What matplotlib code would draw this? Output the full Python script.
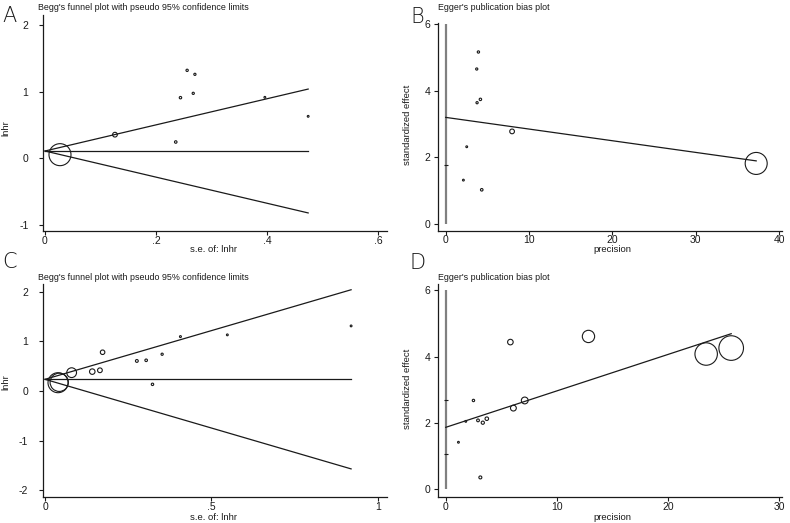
import matplotlib
matplotlib.use("Agg")
import matplotlib.pyplot as plt
import numpy as np

plt.rcParams['font.family'] = ['Liberation Sans', 'DejaVu Sans']

# ---------------- data ----------------
# Panel A: Begg's funnel plot (se, lnhr)
se_a = [0.027, 0.126, 0.2355, 0.244, 0.256, 0.267, 0.270, 0.396, 0.474]
lnhr_a = [0.055, 0.355, 0.245, 0.91, 1.32, 0.975, 1.26, 0.915, 0.63]
pooled_a = 0.11

# Panel B: Egger's plot (precision, standardized effect)
prec_b = [37.24, 7.96, 4.32, 4.16, 3.92, 3.76, 3.72, 2.52, 2.12]
z_b = [1.82, 2.78, 1.03, 3.74, 5.16, 3.64, 4.65, 2.32, 1.32]
egger_b = (3.20, -0.0350)   # intercept, slope
ci_marks_b = [1.76]

# Panel C: Begg's funnel plot
se_c = [0.039, 0.0427, 0.080, 0.142, 0.165, 0.173, 0.276, 0.304, 0.323, 0.352, 0.407, 0.548, 0.92]
lnhr_c = [0.167, 0.175, 0.369, 0.39, 0.417, 0.78, 0.605, 0.618, 0.134, 0.74, 1.095, 1.13, 1.31]
pooled_c = 0.235

# Panel D: Egger's plot
prec_d = [25.66, 23.41, 12.83, 7.10, 6.08, 5.81, 3.69, 3.33, 3.11, 2.90, 2.49, 1.80, 1.14]
z_d = [4.26, 4.08, 4.61, 2.68, 2.45, 4.44, 2.13, 2.01, 0.36, 2.08, 2.68, 2.05, 1.42]
egger_d = (1.87, 0.110)
ci_marks_d = [2.68, 1.08]

# tick labels
xt_a = [0, 0.2, 0.4, 0.6]; xtl_a = ['0', '.2', '.4', '.6']
yt_a = [-1, 0, 1, 2]; ytl_a = ['-1', '0', '1', '2']
xt_b = [0, 10, 20, 30, 40]; yt_b = [0, 2, 4, 6]
xt_c = [0, 0.5, 1]; xtl_c = ['0', '.5', '1']
yt_c = [-2, -1, 0, 1, 2]; ytl_c = ['-2', '-1', '0', '1', '2']
xt_d = [0, 10, 20, 30]; yt_d = [0, 2, 4, 6]

begg_title = "Begg's funnel plot with pseudo 95% confidence limits"
egger_title = "Egger's publication bias plot"

# ---------------- figure ----------------
W, H = 790, 523
DPI = 100
fig = plt.figure(figsize=(W / DPI, H / DPI), dpi=DPI)
fig.patch.set_facecolor('white')

INK = '#1a1a1a'


def add_ax(left, right, top, bottom):
    return fig.add_axes([left / W, 1 - bottom / H, (right - left) / W, (bottom - top) / H])


def style(ax, xlim, ylim, xt, xtl, yt, ytl, ypad):
    ax.set_xlim(*xlim)
    ax.set_ylim(*ylim)
    for s in ('top', 'right'):
        ax.spines[s].set_visible(False)
    for s in ('left', 'bottom'):
        ax.spines[s].set_color(INK)
        ax.spines[s].set_linewidth(0.9)
    ax.set_xticks(xt)
    ax.set_xticklabels(xtl)
    ax.set_yticks(yt)
    ax.set_yticklabels(ytl)
    ax.tick_params(direction='out', length=3, width=0.8, colors=INK,
                   labelsize=7.5)
    ax.tick_params(axis='x', pad=0.3)
    ax.tick_params(axis='y', pad=ypad)
    ax.patch.set_alpha(0)


def sizes(w, rmax):
    w = np.asarray(w, float)
    r = rmax * w / w.max()
    r = np.maximum(r, 0.9)
    d_pt = 2 * r * 72 / DPI
    return d_pt ** 2


def px(x, y):
    return x / W, 1 - y / H


# Panel A
axA = add_ax(43, 387, 15, 231)
style(axA, (-0.0036, 0.616), (-1.09, 2.15), xt_a, xtl_a, yt_a, ytl_a, 7.5)
sa = np.asarray(se_a)
semax = sa.max()
axA.plot([0, semax], [pooled_a, pooled_a], color=INK, lw=0.9)
axA.plot([0, semax], [pooled_a, pooled_a + 1.96 * semax], color=INK, lw=0.9)
axA.plot([0, semax], [pooled_a, pooled_a - 1.96 * semax], color=INK, lw=0.9)
axA.scatter(se_a, lnhr_a, s=sizes(1 / sa, 11), facecolors='none', edgecolors=INK, linewidths=0.8, zorder=3)

# Panel B
axB = add_ax(438.3, 781.7, 23.3, 230.5)
style(axB, (-0.89, 40.3), (-0.19, 6.02), xt_b, [str(v) for v in xt_b], yt_b, [str(v) for v in yt_b], 2.6)
axB.plot([0, 0], [0, 6], color='#808080', lw=1.6, solid_capstyle='butt', zorder=1)
axB.scatter([0] * len(ci_marks_b), ci_marks_b, marker='_', s=6, color=INK, lw=0.8, zorder=2)
pb = np.asarray(prec_b)
xs = np.array([0, pb.max()])
axB.plot(xs, egger_b[0] + egger_b[1] * xs, color=INK, lw=0.9)
axB.scatter(prec_b, z_b, s=sizes(pb, 11), facecolors='none', edgecolors=INK, linewidths=0.8, zorder=3)

# Panel C
axC = add_ax(42.7, 386.7, 283.7, 497.3)
style(axC, (-0.007, 1.027), (-2.14, 2.16), xt_c, xtl_c, yt_c, ytl_c, 7.5)
sc = np.asarray(se_c)
semax = sc.max()
axC.plot([0, semax], [pooled_c, pooled_c], color=INK, lw=0.9)
axC.plot([0, semax], [pooled_c, pooled_c + 1.96 * semax], color=INK, lw=0.9)
axC.plot([0, semax], [pooled_c, pooled_c - 1.96 * semax], color=INK, lw=0.9)
axC.scatter(se_c, lnhr_c, s=sizes(1 / sc, 10), facecolors='none', edgecolors=INK, linewidths=0.8, zorder=3)

# Panel D
axD = add_ax(438.3, 781.7, 283.7, 497)
style(axD, (-0.67, 30.2), (-0.23, 6.2), xt_d, [str(v) for v in xt_d], yt_d, [str(v) for v in yt_d], 2.6)
axD.plot([0, 0], [0, 6], color='#808080', lw=1.6, solid_capstyle='butt', zorder=1)
axD.scatter([0] * len(ci_marks_d), ci_marks_d, marker='_', s=6, color=INK, lw=0.8, zorder=2)
pd_ = np.asarray(prec_d)
xs = np.array([0, pd_.max()])
axD.plot(xs, egger_d[0] + egger_d[1] * xs, color=INK, lw=0.9)
axD.scatter(prec_d, z_d, s=sizes(pd_, 12.3), facecolors='none', edgecolors=INK, linewidths=0.8, zorder=3)

# Titles
tfs = 6.4
fig.text(*px(38, 7), begg_title, fontsize=tfs, ha='left', va='center', color=INK)
fig.text(*px(437.7, 7), egger_title, fontsize=tfs, ha='left', va='center', color=INK)
fig.text(*px(38.3, 277), begg_title, fontsize=tfs, ha='left', va='center', color=INK)
fig.text(*px(438.3, 277), egger_title, fontsize=tfs, ha='left', va='center', color=INK)

# Panel letters
lfs = 15
for (x, y, t) in [(2, 16, 'A'), (410, 17, 'B'), (2, 262, 'C'), (409, 263, 'D')]:
    fig.text(*px(x, y), t, fontsize=lfs, ha='left', va='center', color=INK,
             family=['DejaVu Sans'], fontweight='light')

# Axis labels
afs = 6.8
fig.text(*px(6, 128), 'lnhr', fontsize=afs, rotation=90, ha='center', va='center', color=INK)
fig.text(*px(6, 382), 'lnhr', fontsize=afs, rotation=90, ha='center', va='center', color=INK)
fig.text(*px(407.7, 125), 'standardized effect', fontsize=afs, rotation=90, ha='center', va='center', color=INK)
fig.text(*px(407.7, 389), 'standardized effect', fontsize=afs, rotation=90, ha='center', va='center', color=INK)
fig.text(*px(214, 250), 's.e. of: lnhr', fontsize=afs, ha='center', va='center', color=INK)
fig.text(*px(612, 250), 'precision', fontsize=afs, ha='center', va='center', color=INK)
fig.text(*px(214, 517), 's.e. of: lnhr', fontsize=afs, ha='center', va='center', color=INK)
fig.text(*px(612, 517), 'precision', fontsize=afs, ha='center', va='center', color=INK)

fig.savefig('out.png', dpi=DPI, facecolor='white')
